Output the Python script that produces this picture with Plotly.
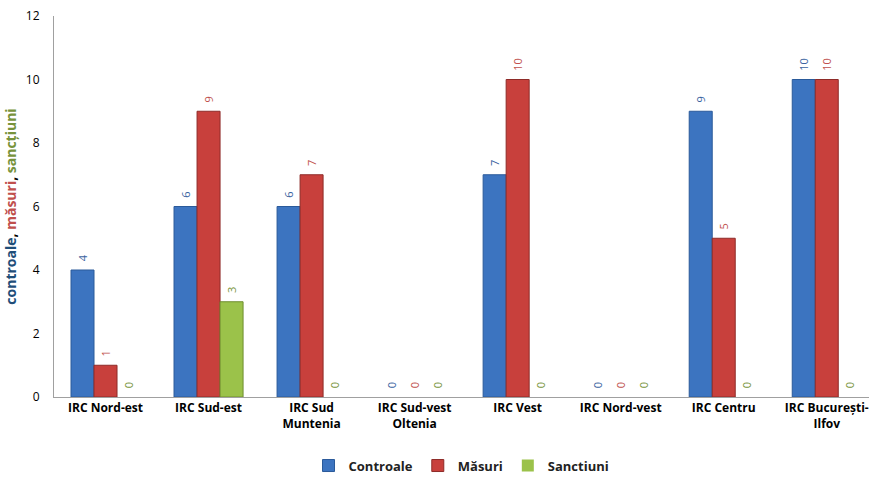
import plotly.graph_objects as go

categories = ["IRC Nord-est", "IRC Sud-est", "IRC Sud<br>Muntenia", "IRC Sud-vest<br>Oltenia",
              "IRC Vest", "IRC Nord-vest", "IRC Centru", "IRC București-<br>Ilfov"]
controale = [4, 6, 6, 0, 7, 0, 9, 10]
masuri = [1, 9, 7, 0, 10, 0, 5, 10]
sanctiuni = [0, 3, 0, 0, 0, 0, 0, 0]
y_ticks = [0, 2, 4, 6, 8, 10, 12]

FONT = "Open Sans"
series = [
    ("Controale", controale, "#3C74C0", "#2A5A9A", "#3A62A0"),
    ("Măsuri", masuri, "#C8403C", "#8E2B28", "#C0504D"),
    ("Sanctiuni", sanctiuni, "#9BC24A", "#6E8E2E", "#77933C"),
]

fig = go.Figure()
for name, vals, fill, line, tcol in series:
    fig.add_trace(go.Bar(
        x=categories, y=vals, name="<b>" + name + "</b>",
        marker=dict(color=fill, line=dict(color=line, width=[1 if v else 0 for v in vals])),
        text=["  " + str(v) for v in vals], textposition="outside", textangle=-90,
        textfont=dict(color=tcol, size=11, family=FONT),
        cliponaxis=False,
    ))

fig.update_layout(
    width=869, height=477,
    barmode="group", bargap=0.33, bargroupgap=0,
    plot_bgcolor="white", paper_bgcolor="white",
    margin=dict(l=54, r=0, t=16, b=80, autoexpand=False),
    font=dict(family=FONT, color="black"),
    legend=dict(orientation="h", x=0.5, xanchor="center", y=-0.18, yanchor="middle",
                font=dict(size=13, family=FONT, color="#222222"), itemwidth=30,
                traceorder="normal"),
    xaxis=dict(range=[-0.5, 7.41], showline=True, linecolor="#A0A0A0", linewidth=1,
               tickfont=dict(size=12, family=FONT, color="black"), ticks="",
               tickprefix="<b>", ticksuffix="</b>", automargin=False),
    yaxis=dict(range=[0, 12], tickvals=y_ticks, showgrid=False, zeroline=False,
               showline=True, linecolor="#A0A0A0", linewidth=1,
               tickfont=dict(size=12, family=FONT, color="black"), automargin=False,
               tickprefix="<b>", ticksuffix="</b>", ticks="outside", ticklen=11, tickcolor="white",
               title=dict(text='<b><span style="color:#1F4E79">controale</span>, '
                               '<span style="color:#C0504D">măsuri</span>, '
                               '<span style="color:#77933C">sancțiuni</span></b>',
                          font=dict(size=14, family=FONT), standoff=5)),
)

fig.write_html("out.html", config={"displayModeBar": False},
               post_script="document.body.style.margin='0';")
